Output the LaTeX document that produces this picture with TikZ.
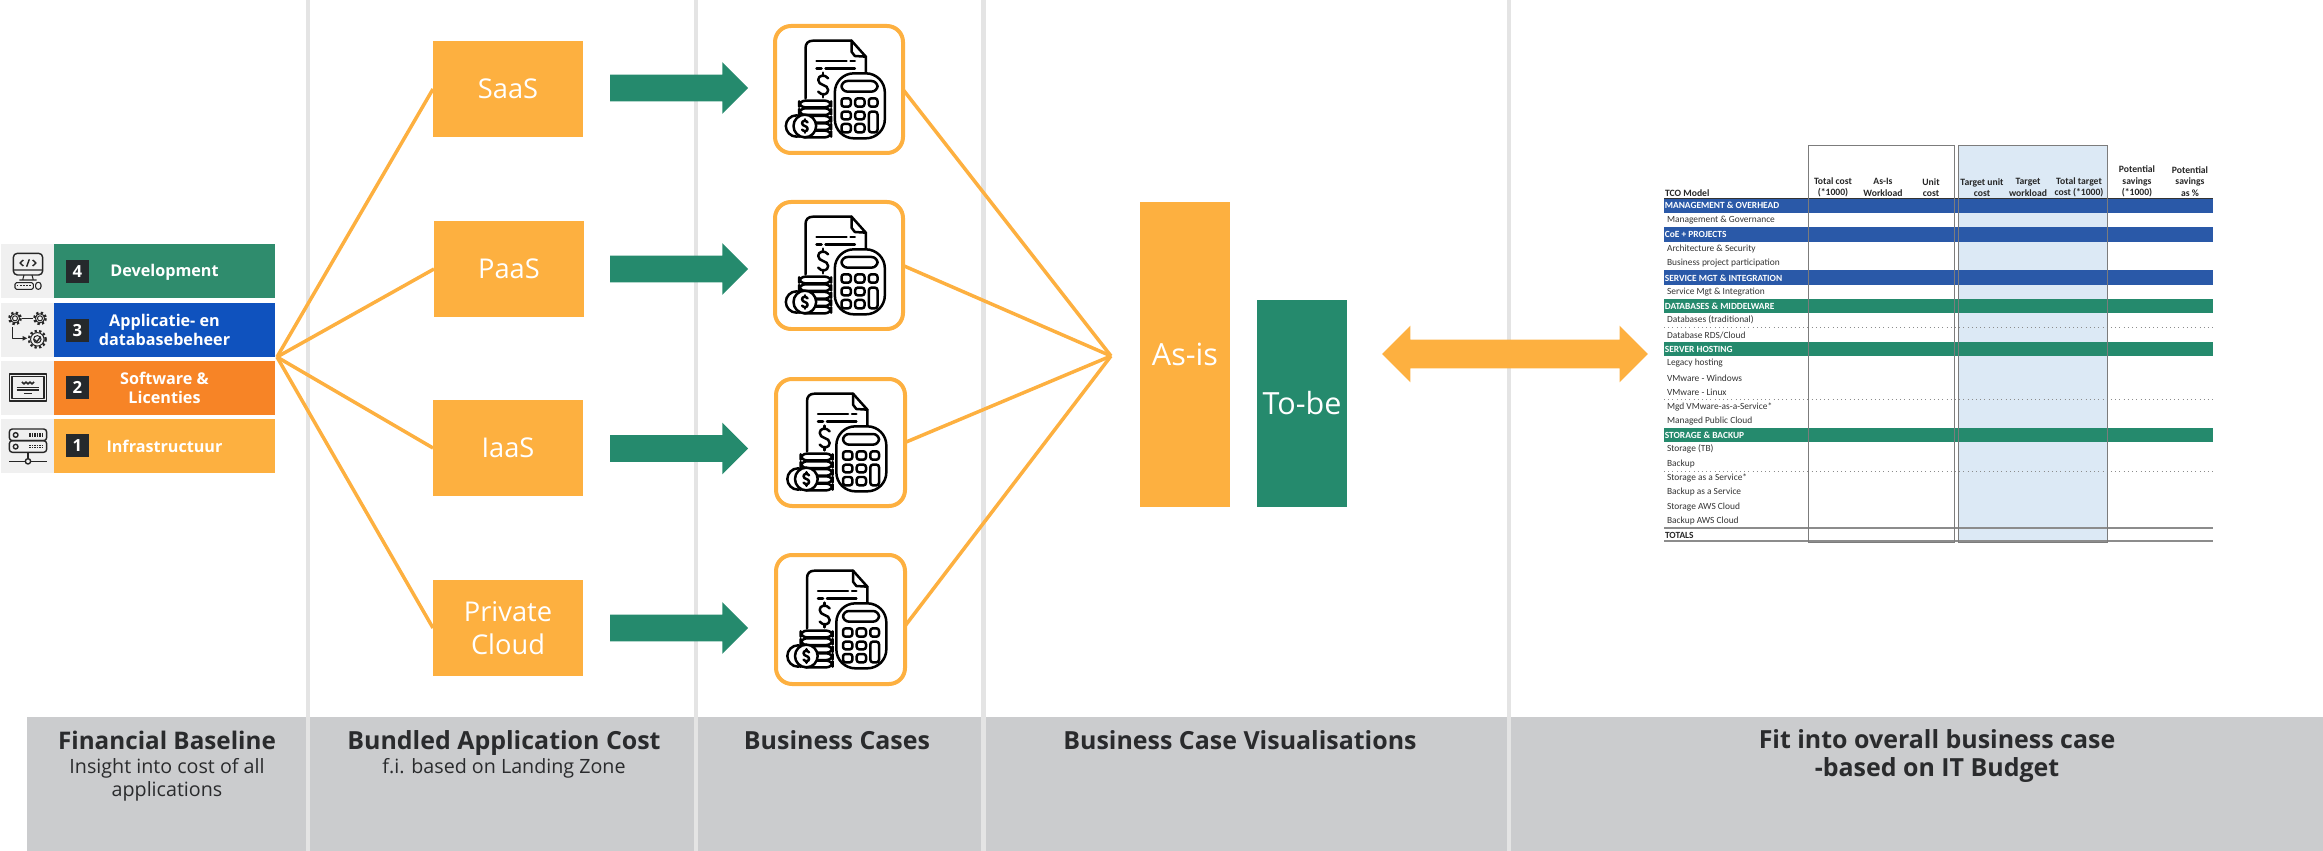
\documentclass[tikz,border=0pt]{standalone}
\usepackage{fontspec}
\setmainfont{Open Sans}
\newfontfamily\tblfont{Carlito}
\usetikzlibrary{shapes.arrows}
\definecolor{amber}{HTML}{FDB040}
\definecolor{teal}{HTML}{258A6D}
\definecolor{barteal}{HTML}{2F8C6D}
\definecolor{barblue}{HTML}{0F52BE}
\definecolor{barorange}{HTML}{F78426}
\definecolor{numdark}{HTML}{25292C}
\definecolor{cellgray}{HTML}{F0F0F0}
\definecolor{bandgray}{HTML}{CBCCCE}
\definecolor{sepgray}{HTML}{E4E4E4}
\definecolor{inkdark}{HTML}{2A2B2D}
\definecolor{tblblue}{HTML}{2A59A8}
\definecolor{tbllight}{HTML}{DCE9F5}
\definecolor{tblline}{HTML}{7C7C7C}
\newcommand{\pxbox}[7]{\node[#6,minimum width={(#4-#2)*0.02cm},minimum height={(#5-#3)*0.02cm},inner sep=0pt,outer sep=0pt] (#1) at ({(#2+#4)/2},{(#3+#5)/2}) {#7};}
\newcommand{\dollarpath}[3]{\begin{scope}[shift={(#1,#2)},scale=#3]
\draw (15,-20) .. controls (5,-33) and (-15,-30) .. (-15,-15) .. controls (-15,3) and (15,-3) .. (15,15) .. controls (15,30) and (-5,33) .. (-15,20);
\draw (0,-37) -- (0,-28) (0,28) -- (0,37);
\end{scope}}
\tikzset{
 amberbox/.style={fill=amber,text=white,align=center,font=\fontsize{15.5}{19}\selectfont},
 widebox/.style={amberbox,font=\fontsize{17.4}{19}\selectfont},
 barbox/.style={fill=#1,text=white,align=center,font=\bfseries\fontsize{9.2}{11}\selectfont},
 numbox/.style={fill=numdark,text=white,font=\bfseries\fontsize{9.5}{11}\selectfont},
 cell/.style={fill=cellgray},
 link/.style={draw=amber,line width=.07cm},
 calcframe/.style={draw=amber,line width=.08cm,rounded corners=.32cm,fill=white},
 flow/.style={single arrow,fill=teal,minimum height=2.76cm,minimum width=1.02cm,single arrow head extend=.25cm,inner sep=0pt,outer sep=0pt},
 bandhead/.style={text=inkdark,align=center,font=\bfseries\fontsize{14.2}{16}\selectfont},
 bandsub/.style={text=inkdark,align=center,font=\fontsize{11.2}{13.2}\selectfont},
 rowtxt/.style={anchor=west,inner sep=0pt,text=black!80,font=\tblfont\fontsize{5.35}{7}\selectfont},
 secttxt/.style={anchor=west,inner sep=0pt,text=white,font=\tblfont\bfseries\fontsize{5.35}{7}\selectfont},
 headtxt/.style={align=center,inner sep=0pt,text=black!85,font=\tblfont\bfseries\fontsize{5.5}{6.6}\selectfont},
 calcicon/.pic={
  \begin{scope}[x=.02cm/3,y=-.02cm/3,shift={(-297.5,-268.5)},line width=.05cm,line join=round,line cap=round,draw=black]
   \draw (197,295) -- (197,145) .. controls (197,130) and (205,122) .. (220,122) -- (335,122) -- (378,170) -- (378,225);
   \draw (335,122) -- (335,155) -- (345,168) -- (378,170);
   \draw (230,183) -- (320,183) (332,183) -- (345,183) (230,205) -- (245,205) (257,205) -- (345,205);
   \dollarpath{250}{255}{1}
   \foreach \yy in {302,325,348,370,392} {\draw[fill=white,rounded corners=.12cm] (178,\yy) rectangle (274,\yy+20);}
   \draw[fill=white] (170,378) circle (32);
   \draw[fill=white] (195,378) circle (34);
   \dollarpath{195}{378}{.55}
   \draw[fill=white,rounded corners=.38cm] (285,220) rectangle (435,415);
   \draw[rounded corners=.12cm] (305,243) rectangle (413,275);
   \foreach \xx/\ww in {305/28,346/28,387/26} {\draw[rounded corners=.05cm] (\xx,295) rectangle (\xx+\ww,320);}
   \foreach \xx in {305,346} {\draw[rounded corners=.05cm] (\xx,335) rectangle (\xx+28,358); \draw[rounded corners=.05cm] (\xx,372) rectangle (\xx+28,397);}
   \draw[rounded corners=.05cm] (387,335) rectangle (413,397);
  \end{scope}
 }
}
\newcommand{\gearat}[3]{\draw[line width=.55pt] (#1,#2) circle ({#3*.72}); \draw[line width=1.3pt,dash pattern=on 1.3pt off 1.3pt] (#1,#2) circle ({#3*.9}); \draw[line width=.55pt] (#1,#2) circle ({#3*.4});}
\begin{document}
\begin{tikzpicture}[x=.02cm,y=-.02cm]
\useasboundingbox (0,0) rectangle (2323,851);
% bottom band
\fill[bandgray] (27,717) rectangle (2323,851);
% separators
\foreach \sx in {308,696,983.5,1509} {\fill[sepgray] (\sx-2.2,0) rectangle (\sx+2.2,851);}
% baseline stack
\pxbox{ic4}{1}{244}{54}{298}{cell}{}
\pxbox{ic3}{1}{303}{54}{357}{cell}{}
\pxbox{ic2}{1}{361}{54}{415}{cell}{}
\pxbox{ic1}{1}{419}{54}{473}{cell}{}
\pxbox{dev}{54}{244}{275}{298}{barbox=barteal}{\vphantom{D}\smash{Development}}
\pxbox{app}{54}{303}{275}{357}{barbox=barblue}{Applicatie- en\\databasebeheer}
\pxbox{sw}{54}{361}{275}{415}{barbox=barorange}{Software \&\\Licenties}
\pxbox{inf}{54}{419}{275}{473}{barbox=amber}{Infrastructuur}
\pxbox{n4}{66}{260}{89}{283}{numbox}{4}
\pxbox{n3}{66}{319}{89}{342}{numbox}{3}
\pxbox{n2}{66}{376}{89}{399}{numbox}{2}
\pxbox{n1}{66}{434}{89}{457}{numbox}{1}
% small icons, in 3x zoom units
\begin{scope}[x=.02cm/3,y=-.02cm/3,shift={(0,660)},line width=.6pt,line join=round,draw=black!85]
 % monitor
 \draw[line width=.8pt,rounded corners=.08cm] (40,100) rectangle (128,165);
 \draw (40,150) -- (128,150) (72,165) -- (68,180) (96,165) -- (100,180) (58,180) -- (110,180);
 \draw[rounded corners=.03cm] (45,188) rectangle (100,208);
 \draw[rounded corners=.05cm] (107,187) rectangle (123,208);
 \draw[dash pattern=on 1pt off .8pt] (50,197) -- (96,197);
 \draw[line width=.8pt] (70,120) -- (60,129) -- (70,138) (98,120) -- (108,129) -- (98,138) (88,118) -- (80,140);
 % gears
 \gearat{45}{295}{19}
 \gearat{120}{295}{19}
 \gearat{112}{358}{28}
 \draw[line width=.8pt] (66,295) -- (98,295);
 \draw[line width=.8pt] (38,322) -- (38,355) -- (70,355);
 \fill[black!85] (82,355) -- (68,348) -- (68,362) -- cycle;
 \draw[line width=.8pt] (103,358) -- (110,366) -- (122,350);
 % certificate
 \draw[line width=.9pt] (28,462) rectangle (140,543);
 \draw (36,470) -- (132,470) -- (132,535) -- (36,535) -- cycle;
 \draw[line width=.9pt] (66,486) -- (72,492) -- (78,486) -- (84,492) -- (90,486) -- (96,492) -- (102,486);
 \draw (50,502) -- (118,502) (50,510) -- (118,510);
 \draw[line width=.9pt] (72,520) -- (96,520);
 % server
 \draw[line width=.8pt,rounded corners=.06cm] (28,627) rectangle (140,662);
 \draw[line width=.8pt,rounded corners=.06cm] (28,662) rectangle (140,697);
 \draw[line width=.8pt] (47,645) circle (7) (47,680) circle (7);
 \draw[dash pattern=on .8pt off .6pt] (88,642) -- (128,642) (88,648) -- (128,648) (88,677) -- (128,677) (88,683) -- (128,683);
 \draw[line width=.8pt] (84,697) -- (84,716) (28,724) -- (75,724) (93,724) -- (140,724);
 \draw[line width=.8pt] (84,724) circle (8);
\end{scope}
% delivery models
\pxbox{saas}{433}{41}{583}{137}{amberbox}{SaaS}
\pxbox{paas}{434}{221}{584}{317}{amberbox}{PaaS}
\pxbox{iaas}{433}{400}{583}{496}{amberbox}{IaaS}
\pxbox{priv}{433}{580}{583}{676}{amberbox}{Private\\Cloud}
% calculator frames
\pxbox{c1}{775}{26}{903}{153}{calcframe}{}
\pxbox{c2}{775}{202}{903}{329}{calcframe}{}
\pxbox{c3}{776}{379}{905}{506}{calcframe}{}
\pxbox{c4}{776}{555}{905}{684}{calcframe}{}
\pic at (c1.center) {calcicon};
\pic at (c2.center) {calcicon};
\pic at (c3.center) {calcicon};
\pic at (c4.center) {calcicon};
% block arrows
\node[flow] (f1) at (672.5,88) {\rule{0pt}{.52cm}};
\node[flow] (f2) at (672.5,269) {\rule{0pt}{.52cm}};
\node[flow] (f3) at (672.5,448.5) {\rule{0pt}{.52cm}};
\node[flow] (f4) at (672.5,628) {\rule{0pt}{.52cm}};
% hubs and links
\coordinate (hubl) at (277,357);
\coordinate (hubr) at (1111,356);
\draw[link] (hubl) -- (saas.west);
\draw[link] (hubl) -- (paas.west);
\draw[link] (hubl) -- (iaas.west);
\draw[link] (hubl) -- (priv.west);
\draw[link] (c1.east) -- (hubr);
\draw[link] (c2.east) -- (hubr);
\draw[link] (c3.east) -- (hubr);
\draw[link] ([yshift=-.13cm]c4.east) -- (hubr);
% as-is / to-be
\pxbox{asis}{1140}{202}{1230}{507}{widebox}{As-is}
\pxbox{tobe}{1257}{300}{1347}{507}{widebox,fill=teal}{To-be}
\node[double arrow,fill=amber,minimum height=5.32cm,minimum width=1.12cm,double arrow head extend=.28cm,inner sep=0pt,outer sep=0pt] (link2) at (1515,354) {\rule{0pt}{.56cm}};
% table
\fill[tbllight] (1958,145) rectangle (2107,542);
\foreach \ya/\yb in {198/213,227/242,270/285} {\fill[tblblue] (1664,\ya) rectangle (2213,\yb);}
\foreach \ya/\yb in {299/313,342/356,428/442} {\fill[teal] (1664,\ya) rectangle (2213,\yb);}
\draw[black!80,line width=.5pt] (1664,198) -- (2213,198);
\foreach \yy in {327,399,471} {\draw[black!45,line width=.4pt,dotted] (1664,\yy) -- (2213,\yy);}
\draw[black!45,line width=1pt] (1664,528) -- (2213,528);
\draw[black!45,line width=.8pt] (1664,541) -- (2213,541);
\draw[tblline,line width=.55pt] (1808,145) rectangle (1954,542);
\draw[tblline,line width=.55pt] (1958,145) rectangle (2107,542);
\node[headtxt,anchor=west] (tco) at (1664.7,193) {TCO Model};
\foreach \nm/\cx/\cy/\tx in {h1/1833/187.5/{Total cost\\(*1000)},h2/1883/187.5/{As-Is\\Workload},h3/1931/187.5/{Unit\\cost},h4/1982/187.5/{Target unit\\cost},h5/2028/187.5/{Target\\workload},h6/2079/187.5/{Total target\\cost (*1000)},h7/2137/181.5/{Potential\\savings\\(*1000)},h8/2190/181.5/{Potential\\savings\\as \%}} {
 \node[headtxt] (\nm) at (\cx,\cy) {\tx};
}
\foreach \nm/\cy/\tx in {s1/205.5/{MANAGEMENT \& OVERHEAD},s2/234.5/{CoE + PROJECTS},s3/278/{SERVICE MGT \& INTEGRATION},s4/306/{DATABASES \& MIDDELWARE},s5/349/{SERVER HOSTING},s6/435/{STORAGE \& BACKUP}} {
 \node[secttxt] (\nm) at (1664.5,\cy) {\tx};
}
\foreach \nm/\cy/\tx in {r1/220/{Management \& Governance},r2/249/{Architecture \& Security},r3/263/{Business project participation},r4/292/{Service Mgt \& Integration},r5/320/{Databases (traditional)},r6/335/{Database RDS/Cloud},r7/363/{Legacy hosting},r8/378/{VMware - Windows},r9/392/{VMware  - Linux},r10/407/{Mgd VMware-as-a-Service*},r11/421/{Managed Public Cloud},r12/449/{Storage (TB)},r13/464/{Backup},r14/478/{Storage as a Service*},r15/492/{Backup as a Service},r16/507/{Storage AWS Cloud},r17/521/{Backup AWS Cloud}} {
 \node[rowtxt] (\nm) at (1666.7,\cy) {\tx};
}
\node[secttxt,text=black!85] (tot) at (1664.7,535) {TOTALS};
% band labels
\node[bandhead,anchor=base,font=\bfseries\fontsize{13.8}{16}\selectfont] (b1) at (167,749) {Financial Baseline};
\node[bandsub] (b1s) at (167,780) {Insight into cost of all\\applications};
\node[bandhead,anchor=base] (b2) at (504,749) {Bundled Application Cost};
\node[bandsub,anchor=base] (b2s) at (504,773.5) {f.i. based on Landing Zone};
\node[bandhead,anchor=base] (b3) at (837,749) {Business Cases};
\node[bandhead,anchor=base] (b4) at (1240,749) {Business Case Visualisations};
\node[bandhead] (b5) at (1937,756) {Fit into overall business case\\-based on IT Budget};
\end{tikzpicture}
\end{document}
